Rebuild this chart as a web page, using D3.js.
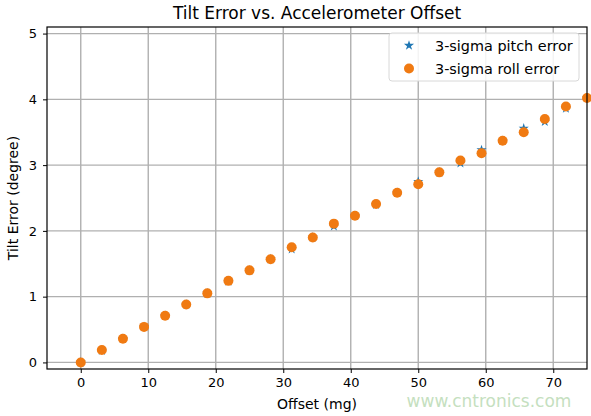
<!DOCTYPE html>
<html>
<head>
<meta charset="utf-8">
<script src="https://cdn.jsdelivr.net/npm/d3@7"></script>
<style>
  body { margin: 0; background: #fff; }
  text { font-family: "DejaVu Sans", sans-serif; }
</style>
</head>
<body>
<script>
// offset in mg, errors in degrees
var offsets = [0, 3.125, 6.25, 9.375, 12.5, 15.625, 18.75, 21.875, 25, 28.125, 31.25, 34.375, 37.5,
  40.625, 43.75, 46.875, 50, 53.125, 56.25, 59.375, 62.5, 65.625, 68.75, 71.875, 75];
var pitchErr = [0, 0.18, 0.36, 0.54, 0.71, 0.88, 1.05, 1.23, 1.40, 1.57, 1.72, 1.90, 2.07,
  2.23, 2.40, 2.58, 2.75, 2.89, 3.03, 3.23, 3.37, 3.56, 3.66, 3.86, 4.02];
var rollErr = [0, 0.19, 0.36, 0.54, 0.71, 0.88, 1.05, 1.24, 1.40, 1.57, 1.75, 1.90, 2.11,
  2.23, 2.41, 2.58, 2.71, 2.89, 3.07, 3.18, 3.37, 3.50, 3.70, 3.89, 4.02];
var xTicks = [0, 10, 20, 30, 40, 50, 60, 70];
var yTicks = [0, 1, 2, 3, 4, 5];
var seriesNames = ['3-sigma pitch error', '3-sigma roll error'];

var W = 591, H = 416;
var margin = {top: 27, right: 4, bottom: 47, left: 47},
    width = W - margin.left - margin.right,
    height = H - margin.top - margin.bottom;

var blue = '#1f77b4', orange = '#f07a12';

var x = d3.scaleLinear().domain([-5, 75]).range([0, width]);
var y = d3.scaleLinear().domain([-0.1, 5.1]).range([height, 0]);

var svg = d3.select("body").append("svg")
    .attr("width", W)
    .attr("height", H);

var g = svg.append("g")
    .attr("transform", "translate(" + margin.left + "," + margin.top + ")");

// grid
g.append("g").selectAll("line").data(xTicks).enter().append("line")
    .attr("x1", function(d) { return x(d); }).attr("x2", function(d) { return x(d); })
    .attr("y1", 0).attr("y2", height)
    .attr("stroke", "#b0b0b0").attr("stroke-width", 1.4);
g.append("g").selectAll("line").data(yTicks).enter().append("line")
    .attr("y1", function(d) { return y(d); }).attr("y2", function(d) { return y(d); })
    .attr("x1", 0).attr("x2", width)
    .attr("stroke", "#b0b0b0").attr("stroke-width", 1.4);

// axes
var xAxis = g.append("g")
    .attr("transform", "translate(0," + height + ")")
    .call(d3.axisBottom(x).tickValues(xTicks).tickFormat(d3.format("d")).tickSize(4).tickPadding(5));
var yAxis = g.append("g")
    .call(d3.axisLeft(y).tickValues(yTicks).tickFormat(d3.format("d")).tickSize(4).tickPadding(6));
[xAxis, yAxis].forEach(function(a) {
  a.select(".domain").remove();
  a.selectAll("text").style("font-size", "13px").attr("fill", "#000");
  a.selectAll("line").attr("stroke", "#000");
});

// markers
var star = d3.symbol().type(d3.symbolStar).size(32);
g.append("g").selectAll("path").data(offsets).enter().append("path")
    .attr("d", star)
    .attr("transform", function(d, i) { return "translate(" + x(d) + "," + y(pitchErr[i]) + ")"; })
    .attr("fill", blue);

g.append("g").selectAll("circle").data(offsets).enter().append("circle")
    .attr("cx", function(d) { return x(d); })
    .attr("cy", function(d, i) { return y(rollErr[i]); })
    .attr("r", 5)
    .attr("fill", orange);

// frame
g.append("rect")
    .attr("width", width).attr("height", height)
    .attr("fill", "none").attr("stroke", "#000").attr("stroke-width", 1.2);

// legend
var leg = g.append("g").attr("transform", "translate(" + (389 - margin.left) + "," + (33 - margin.top) + ")");
leg.append("rect")
    .attr("width", 190).attr("height", 48).attr("rx", 3)
    .attr("fill", "#fff").attr("fill-opacity", 0.85)
    .attr("stroke", "#d8d8d8");
leg.append("path").attr("d", star).attr("fill", blue)
    .attr("transform", "translate(20,12.5)");
leg.append("circle").attr("cx", 20).attr("cy", 35.5).attr("r", 5).attr("fill", orange);
leg.selectAll("text.lbl").data(seriesNames).enter().append("text")
    .attr("class", "lbl")
    .attr("x", 46).attr("y", function(d, i) { return 12.5 + i * 23; })
    .attr("dy", "0.35em")
    .style("font-size", "14.4px")
    .text(function(d) { return d; });

// titles
svg.append("text")
    .attr("x", margin.left + width / 2).attr("y", 19)
    .attr("text-anchor", "middle")
    .style("font-size", "17px")
    .text("Tilt Error vs. Accelerometer Offset");
svg.append("text")
    .attr("x", margin.left + width / 2).attr("y", 409)
    .attr("text-anchor", "middle")
    .style("font-size", "14px")
    .text("Offset (mg)");
svg.append("text")
    .attr("transform", "translate(18," + (margin.top + height / 2) + ") rotate(-90)")
    .attr("text-anchor", "middle")
    .style("font-size", "14px")
    .text("Tilt Error (degree)");

// watermark
svg.append("text")
    .attr("x", 489).attr("y", 407)
    .attr("text-anchor", "middle")
    .style("font-size", "17px")
    .attr("fill", "#c5dfc0")
    .text("www.cntronics.com");
</script>
</body>
</html>
